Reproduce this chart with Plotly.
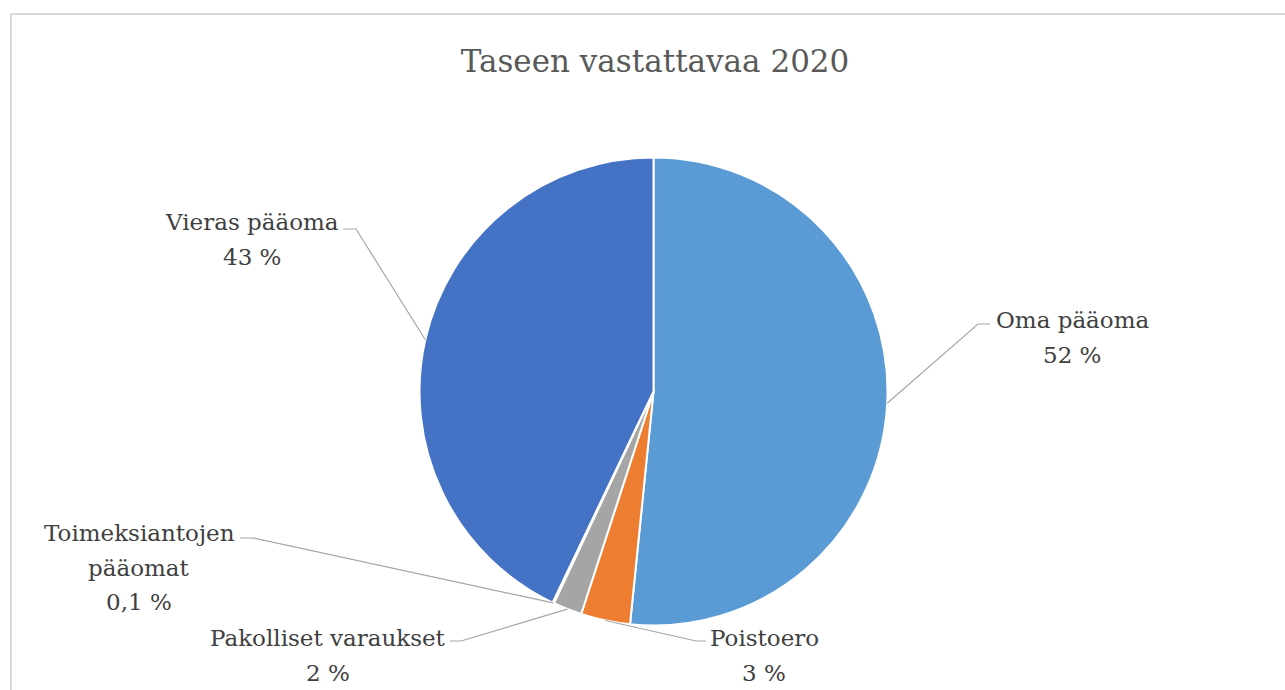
import math
import plotly.graph_objects as go

# ---------------- data ----------------
categories = ["Oma pääoma", "Poistoero", "Pakolliset varaukset",
              "Toimeksiantojen pääomat", "Vieras pääoma"]
values = [51.6, 3.4, 2.0, 0.1, 42.9]
colors = ["#5B9BD5", "#ED7D31", "#A5A5A5", "#FFC000", "#4472C4"]
title_text = "Taseen vastattavaa 2020"

# ---------------- layout constants (pixels) ----------------
W, H = 1285, 690
CX, CY, R = 653.5, 391.5, 234.0
FONT = "DejaVu Serif"
LINE_GAP = 34.5

# centre of the first text line of each label, and leader elbow/end points
label_pos = {
    "Oma pääoma": (1072, 320),
    "Poistoero": (764, 638),
    "Pakolliset varaukset": (328, 638),
    "Toimeksiantojen pääomat": (139, 533),
    "Vieras pääoma": (252, 222),
}
leader_pts = {
    "Oma pääoma": [(978, 324), (990, 324)],
    "Poistoero": [(696, 641), (706, 641)],
    "Pakolliset varaukset": [(461, 641), (450, 641)],
    "Toimeksiantojen pääomat": [(253, 538), (240, 538)],
    "Vieras pääoma": [(356, 229), (343, 229)],
}
wrap = {"Toimeksiantojen pääomat": ["Toimeksiantojen", "pääomat"]}


def px(x):
    return x / W


def py(y):
    return 1 - y / H


def fmt_pct(v, total):
    p = v / total * 100
    if p < 1:
        s = f"{p:.1f}".replace(".", ",")
    else:
        s = f"{p:.0f}"
    return s + " %"


fig = go.Figure()
fig.add_trace(go.Pie(
    labels=categories,
    values=values,
    sort=False,
    direction="clockwise",
    rotation=0,
    marker=dict(colors=colors, line=dict(color="white", width=2)),
    textinfo="none",
    hoverinfo="label+percent",
    showlegend=False,
    domain=dict(x=[px(CX - R), px(CX + R)], y=[py(CY + R), py(CY - R)]),
))

total = sum(values)
shapes = []
annotations = []
cum = 0.0
for cat, v in zip(categories, values):
    mid = (cum + v / 2) / total * 2 * math.pi
    cum += v
    ex = CX + R * math.sin(mid)
    ey = CY - R * math.cos(mid)
    pts = [(ex, ey)] + leader_pts[cat]
    path = "M " + " L ".join(f"{px(x):.5f},{py(y):.5f}" for x, y in pts)
    shapes.append(dict(type="path", path=path, xref="paper", yref="paper",
                       line=dict(color="#A6A6A6", width=1.2)))
    lx, ly = label_pos[cat]
    lines = wrap.get(cat, [cat]) + [fmt_pct(v, total)]
    for i, line in enumerate(lines):
        annotations.append(dict(
            x=px(lx), y=py(ly + i * LINE_GAP), xref="paper", yref="paper",
            xanchor="center", yanchor="middle", align="center",
            text=line, showarrow=False,
            font=dict(family=FONT, size=23, color="#404040"),
        ))

# outer chart border
shapes.append(dict(type="rect", xref="paper", yref="paper",
                   x0=px(11), x1=px(1300), y0=py(720), y1=py(14),
                   line=dict(color="#D9D9D9", width=2), layer="below"))

fig.update_layout(
    width=W, height=H,
    margin=dict(l=0, r=0, t=0, b=0),
    paper_bgcolor="white", plot_bgcolor="white",
    title=dict(text=title_text, x=px(655), y=py(61), xanchor="center",
               yanchor="middle", xref="paper", yref="paper",
               font=dict(family=FONT, size=31, color="#595959")),
    shapes=shapes,
    annotations=annotations,
)

fig.write_html("out.html", config={"displayModeBar": False},
               post_script="document.body.style.margin='0px';")
